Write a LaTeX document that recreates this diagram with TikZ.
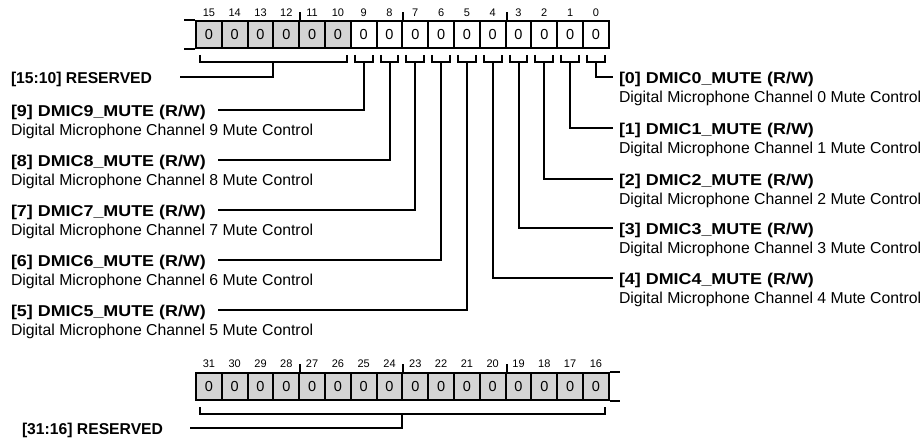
\documentclass[tikz,border=0pt]{standalone}
\usepackage{fontspec}
\setmainfont{Liberation Sans}
\usetikzlibrary{positioning,calc}
\definecolor{RegGray}{RGB}{212,212,212}

\begin{document}
\begin{tikzpicture}[x=1pt,y=-1pt, line width=2pt,
  cell/.style={draw, minimum width=25.8pt, minimum height=27pt, inner sep=0pt, font=\fontsize{14.5}{14.5}\selectfont},
  rsv/.style={cell, fill=RegGray},
  bitno/.style={inner sep=0pt, font=\fontsize{11}{11}\selectfont},
  title/.style={anchor=west, inner sep=0pt, text height=11.5pt, text depth=3.2pt, font=\bfseries\fontsize{15.7}{17}\selectfont},
  mutetitle/.style={title, font=\bfseries\fontsize{15.7}{17}\selectfont\addfontfeature{FakeStretch=1.14}},
  desc/.style={inner sep=0pt, text height=11.5pt, text depth=3.2pt, font=\fontsize{15.8}{17}\selectfont}]
  \useasboundingbox (0,0) rectangle (923,441);

  % register bits 15..0
  \foreach \i in {0,...,9} {
    \node[cell] (b\i) at ({208.9+(15-\i)*25.8},34.5) {0};
  }
  \foreach \i in {10,...,15} {
    \node[rsv] (b\i) at ({208.9+(15-\i)*25.8},34.5) {0};
  }
  \foreach \i in {0,...,15} {
    \node[bitno] (n\i) at ({208.9+(15-\i)*25.8},12.5) {\i};
  }
  \draw (b15.north west) -- ++(-11,0);
  \draw (b15.south west) -- ++(-11,0);
  \foreach \i in {12,8,4} \draw (b\i.north east) -- ++(0,-8);

  % register bits 31..16
  \foreach \i in {16,...,31} {
    \node[rsv] (c\i) at ({208.9+(31-\i)*25.8},386.5) {0};
    \node[bitno] (n\i) at ({208.9+(31-\i)*25.8},363.5) {\i};
  }
  \draw (c16.north east) -- ++(10,0);
  \draw (c16.south east) -- ++(10,0);
  \foreach \i in {28,24,20} \draw (c\i.north east) -- ++(0,-8);

  % brackets
  \foreach \i in {0,...,9}
    \draw ([xshift=5pt,yshift=-6pt]b\i.south west) -- ++(0,7) -| ([xshift=-5pt,yshift=-6pt]b\i.south east);
  \draw ([xshift=5pt,yshift=-6pt]b15.south west) -- ++(0,7) -| ([xshift=-5pt,yshift=-6pt]b10.south east);
  \draw ([xshift=5pt,yshift=-6pt]c31.south west) -- ++(0,7) -| ([xshift=-5pt,yshift=-6pt]c16.south east);

  % left labels
  \node[title] (t1510) at (10,79) {[15:10] RESERVED};
  \node[mutetitle] (t9) at (10,112) {[9] DMIC9\_MUTE (R/W)};
  \node[desc, below=2.8pt of t9.south west, anchor=north west] (d9) {Digital Microphone Channel 9 Mute Control};
  \node[mutetitle] (t8) at (10,162) {[8] DMIC8\_MUTE (R/W)};
  \node[desc, below=2.8pt of t8.south west, anchor=north west] (d8) {Digital Microphone Channel 8 Mute Control};
  \node[mutetitle] (t7) at (10,212) {[7] DMIC7\_MUTE (R/W)};
  \node[desc, below=2.8pt of t7.south west, anchor=north west] (d7) {Digital Microphone Channel 7 Mute Control};
  \node[mutetitle] (t6) at (10,262) {[6] DMIC6\_MUTE (R/W)};
  \node[desc, below=2.8pt of t6.south west, anchor=north west] (d6) {Digital Microphone Channel 6 Mute Control};
  \node[mutetitle] (t5) at (10,312) {[5] DMIC5\_MUTE (R/W)};
  \node[desc, below=2.8pt of t5.south west, anchor=north west] (d5) {Digital Microphone Channel 5 Mute Control};
  \node[title] (t3116) at (21,430) {[31:16] RESERVED};

  % right labels
  \node[mutetitle] (t0) at (618,79) {[0] DMIC0\_MUTE (R/W)};
  \node[desc, below=2.8pt of t0.south west, anchor=north west] (d0) {Digital Microphone Channel 0 Mute Control};
  \node[mutetitle] (t1) at (618,130) {[1] DMIC1\_MUTE (R/W)};
  \node[desc, below=2.8pt of t1.south west, anchor=north west] (d1) {Digital Microphone Channel 1 Mute Control};
  \node[mutetitle] (t2) at (618,181) {[2] DMIC2\_MUTE (R/W)};
  \node[desc, below=2.8pt of t2.south west, anchor=north west] (d2) {Digital Microphone Channel 2 Mute Control};
  \node[mutetitle] (t3) at (618,230) {[3] DMIC3\_MUTE (R/W)};
  \node[desc, below=2.8pt of t3.south west, anchor=north west] (d3) {Digital Microphone Channel 3 Mute Control};
  \node[mutetitle] (t4) at (618,280) {[4] DMIC4\_MUTE (R/W)};
  \node[desc, below=2.8pt of t4.south west, anchor=north west] (d4) {Digital Microphone Channel 4 Mute Control};

  % wire ends
  \coordinate (e1510) at (180,77);
  \coordinate (e9) at (218,110);
  \coordinate (e8) at (218,160);
  \coordinate (e7) at (218,210);
  \coordinate (e6) at (218,260);
  \coordinate (e5) at (218,310);
  \coordinate (e3116) at (190,428);
  \foreach \i in {0,...,4} \coordinate (e\i) at ([xshift=-5pt,yshift=2pt]t\i.west);

  % wires
  \foreach \i in {0,...,9} \draw ([yshift=-13pt]b\i.south) |- (e\i);
  \draw ($(b15.south west)!0.5!(b10.south east)+(0,13)$) |- (e1510);
  \draw ($(c31.south west)!0.5!(c16.south east)+(0,13)$) |- (e3116);
\end{tikzpicture}
\end{document}
